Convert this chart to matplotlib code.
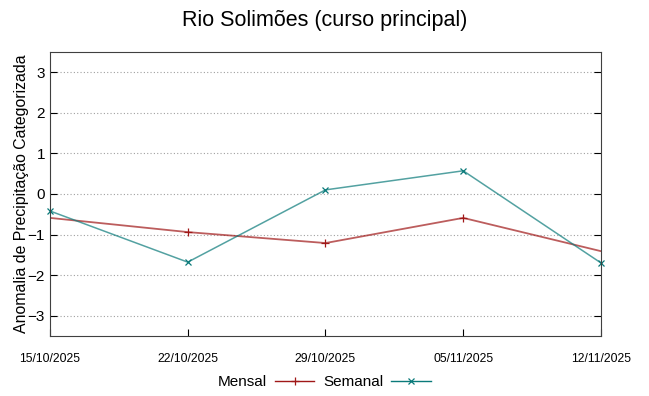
import matplotlib
matplotlib.use('Agg')
import matplotlib.pyplot as plt
from datetime import datetime

plt.rcParams['font.family'] = ['Liberation Sans', 'DejaVu Sans']

# Dados
datas = ['15/10/2025', '22/10/2025', '29/10/2025', '05/11/2025', '12/11/2025']
mensal = [-0.59, -0.94, -1.21, -0.59, -1.41]
semanal = [-0.42, -1.68, 0.10, 0.57, -1.70]

x = [datetime.strptime(d, '%d/%m/%Y') for d in datas]

fig = plt.figure(figsize=(6.49, 3.96), dpi=100)
ax = fig.add_axes([0.077, 0.1515, 0.849, 0.7175])

verm = '#a01818'
azul = '#0a7a7a'

# linhas (mais claras) + marcadores
ax.plot(x, mensal, color=verm, alpha=0.7, lw=1.3)
ax.plot(x, semanal, color=azul, alpha=0.7, lw=1.1)
ax.plot(x, mensal, ls='none', color=verm, marker='+', ms=6, mew=0.9, markevery=[1, 2, 3])
ax.plot(x, semanal, ls='none', color=azul, marker='x', ms=4.5, mew=0.9, clip_on=False)

# entradas da legenda
ax.plot([], [], color=verm, lw=1.0, marker='+', ms=6, mew=0.9, label='Mensal')
ax.plot([], [], color=azul, lw=1.0, marker='x', ms=4.5, mew=0.9, label='Semanal')

ax.set_xlim(x[0], x[-1])
ax.set_ylim(-3.5, 3.5)
ax.set_yticks([-3, -2, -1, 0, 1, 2, 3])
ax.set_xticks(x)
ax.set_xticklabels(datas, fontsize=8.7)
ax.tick_params(axis='y', labelsize=11, direction='in', right=True, length=5)
ax.tick_params(axis='x', direction='in', top=False, length=5, pad=12)
ax.yaxis.grid(True, linestyle=(0, (1, 2)), color='#a0a0a0', lw=0.8)
for s in ax.spines.values():
    s.set_color('#404040')

ax.set_ylabel('Anomalia de Precipitação Categorizada', fontsize=11.4, labelpad=-1)
fig.suptitle('Rio Solimões (curso principal)', fontsize=15.5, y=0.975)

fig.legend(loc='center', bbox_to_anchor=(0.5, 0.035), ncol=2, frameon=False,
           markerfirst=False, fontsize=11, handlelength=2.6, columnspacing=0.6,
           handletextpad=0.5)

fig.savefig('out.png', dpi=100)
